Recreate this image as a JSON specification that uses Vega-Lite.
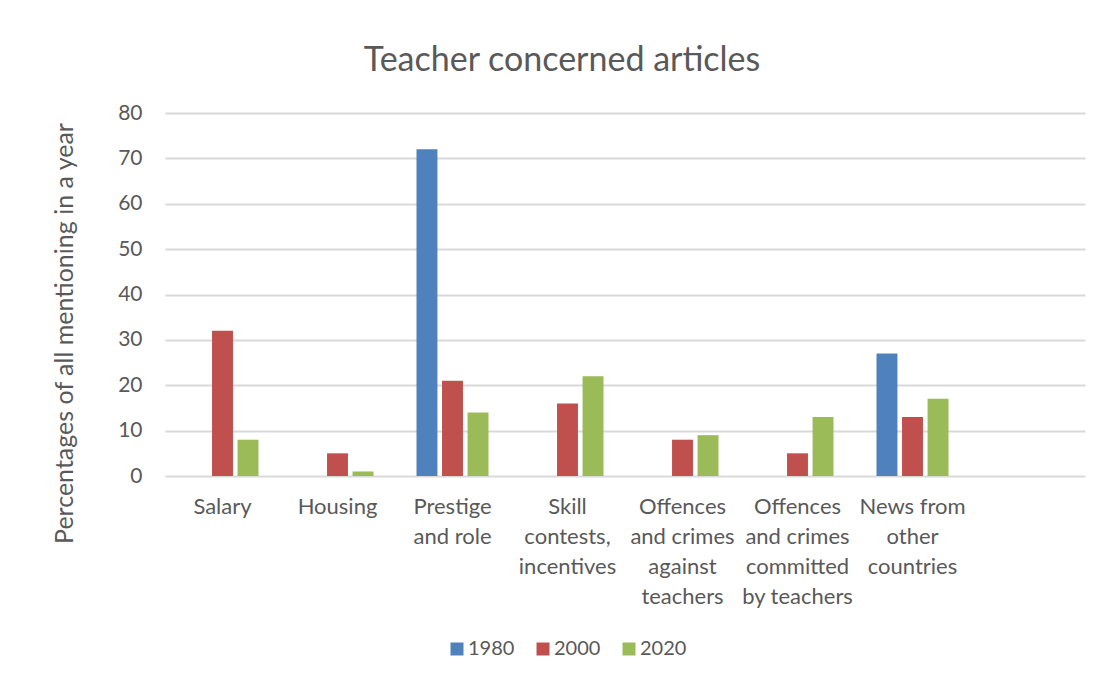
{
  "$schema": "https://vega.github.io/schema/vega-lite/v6.json",
  "autosize": "none",
  "width": 920,
  "height": 363,
  "padding": {"left": 165, "top": 113, "right": 16, "bottom": 204},
  "background": "white",
  "title": {
    "text": "Teacher concerned articles",
    "anchor": "middle",
    "frame": "group",
    "dx": -63,
    "offset": 24,
    "fontSize": 34,
    "font": "Lato",
    "fontWeight": "normal",
    "color": "#595959"
  },
  "data": {
    "values": [
      {"category": "Salary", "year": "1980", "value": 0},
      {"category": "Salary", "year": "2000", "value": 32},
      {"category": "Salary", "year": "2020", "value": 8},
      {"category": "Housing", "year": "1980", "value": 0},
      {"category": "Housing", "year": "2000", "value": 5},
      {"category": "Housing", "year": "2020", "value": 1},
      {"category": "Prestige and role", "year": "1980", "value": 72},
      {"category": "Prestige and role", "year": "2000", "value": 21},
      {"category": "Prestige and role", "year": "2020", "value": 14},
      {"category": "Skill contests, incentives", "year": "1980", "value": 0},
      {"category": "Skill contests, incentives", "year": "2000", "value": 16},
      {"category": "Skill contests, incentives", "year": "2020", "value": 22},
      {"category": "Offences and crimes against teachers", "year": "1980", "value": 0},
      {"category": "Offences and crimes against teachers", "year": "2000", "value": 8},
      {"category": "Offences and crimes against teachers", "year": "2020", "value": 9},
      {"category": "Offences and crimes committed by teachers", "year": "1980", "value": 0},
      {"category": "Offences and crimes committed by teachers", "year": "2000", "value": 5},
      {"category": "Offences and crimes committed by teachers", "year": "2020", "value": 13},
      {"category": "News from other countries", "year": "1980", "value": 27},
      {"category": "News from other countries", "year": "2000", "value": 13},
      {"category": "News from other countries", "year": "2020", "value": 17}
    ]
  },
  "mark": {"type": "bar"},
  "encoding": {
    "x": {
      "field": "category",
      "type": "nominal",
      "sort": null,
      "scale": {
        "domain": ["Salary", "Housing", "Prestige and role", "Skill contests, incentives", "Offences and crimes against teachers", "Offences and crimes committed by teachers", "News from other countries", " "],
        "paddingInner": 0.374,
        "paddingOuter": 0.187
      },
      "axis": {
        "title": null,
        "labelAngle": 0,
        "domain": false,
        "ticks": false,
        "labelPadding": 20,
        "labelFont": "Lato",
        "labelFontSize": 22,
        "labelLineHeight": 30,
        "labelColor": "#595959",
        "labelBaseline": "top",
        "labelAlign": "center",
        "labelLimit": 0,
        "labelExpr": "{'Salary':['Salary'],'Housing':['Housing'],'Prestige and role':['Prestige','and role'],'Skill contests, incentives':['Skill','contests,','incentives'],'Offences and crimes against teachers':['Offences','and crimes','against','teachers'],'Offences and crimes committed by teachers':['Offences','and crimes','committed','by teachers'],'News from other countries':['News from','other','countries']}[datum.label] || ''"
      }
    },
    "xOffset": {
      "field": "year",
      "type": "nominal",
      "scale": {"paddingInner": 0.18, "paddingOuter": 0}
    },
    "y": {
      "field": "value",
      "type": "quantitative",
      "scale": {"domain": [0, 80], "nice": false},
      "axis": {
        "title": "Percentages of all mentioning in a year",
        "titleFont": "Lato",
        "titleFontSize": 25,
        "titleFontWeight": "normal",
        "titleColor": "#595959",
        "titleX": -101,
        "titleY": 220,
        "titleAngle": -90,
        "titleAlign": "center",
        "titleBaseline": "middle",
        "values": [0, 10, 20, 30, 40, 50, 60, 70, 80],
        "domain": false,
        "ticks": false,
        "labelPadding": 23,
        "labelFont": "Lato",
        "labelFontSize": 21,
        "labelColor": "#595959",
        "grid": true,
        "gridColor": "#d9d9d9",
        "gridWidth": 2
      }
    },
    "color": {
      "field": "year",
      "type": "nominal",
      "scale": {"domain": ["1980", "2000", "2020"], "range": ["#4f81bd", "#c0504d", "#9bbb59"]},
      "legend": {
        "title": null,
        "orient": "none",
        "direction": "horizontal",
        "legendX": 282,
        "legendY": 526,
        "symbolType": "square",
        "symbolSize": 169,
        "symbolStrokeWidth": 0,
        "labelFont": "Lato",
        "labelFontSize": 20,
        "labelColor": "#595959",
        "labelOffset": 1,
        "columnPadding": 18
      }
    }
  },
  "config": {"view": {"stroke": null}}
}
